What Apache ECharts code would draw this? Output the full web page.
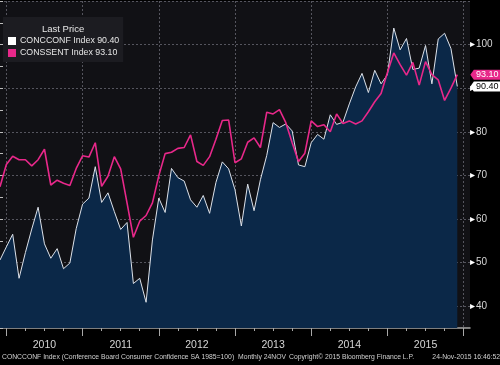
<!DOCTYPE html>
<html><head><meta charset="utf-8">
<script src="https://cdn.jsdelivr.net/npm/echarts@6/dist/echarts.min.js"></script>
<style>html,body{margin:0;padding:0;background:#000;}#c{width:500px;height:365px;}</style>
</head><body><div id="c"></div>
<script>
// Monthly observations, Nov 2009 .. Nov 2015 (plotted at month end)
const firstObs = 'Nov 2009';
const concconf = [
  50.6, 53.6,
  56.5, 46.4, 52.3, 57.7, 62.7, 54.3, 51.0, 53.2, 48.6, 49.9, 57.8, 63.4,
  64.8, 72.0, 63.8, 66.0, 61.7, 57.6, 59.2, 45.2, 46.4, 40.9, 55.2, 64.8,
  61.5, 71.6, 69.5, 68.7, 64.4, 62.7, 65.4, 61.3, 68.4, 73.1, 71.5, 66.7,
  58.4, 68.0, 61.9, 69.0, 74.6, 82.1, 81.0, 81.8, 80.2, 72.4, 72.0, 77.5,
  79.4, 78.3, 83.9, 81.7, 82.2, 86.4, 90.3, 93.4, 89.0, 94.1, 91.0, 93.1,
  103.8, 98.8, 101.4, 94.3, 94.6, 99.8, 91.0, 101.3, 102.6, 99.1, 90.4
];
const conssent = [
  67.4, 72.5,
  74.4, 73.6, 73.6, 72.2, 73.6, 76.0, 67.8, 68.9, 68.2, 67.7, 71.6, 74.5,
  74.2, 77.5, 67.5, 69.8, 74.3, 71.5, 63.7, 55.8, 59.5, 60.8, 63.7, 69.9,
  75.0, 75.3, 76.2, 76.4, 79.3, 73.2, 72.3, 74.3, 78.3, 82.6, 82.7, 72.9,
  73.8, 77.6, 78.6, 76.4, 84.5, 84.1, 85.1, 82.1, 77.5, 73.2, 75.1, 82.5,
  81.2, 81.6, 80.0, 84.1, 81.9, 82.5, 81.8, 82.5, 84.6, 86.9, 88.8, 93.6,
  98.1, 95.4, 93.0, 95.9, 90.7, 96.1, 93.1, 91.9, 87.2, 90.0, 93.1
];
const seriesNames = ['CONCCONF Index', 'CONSSENT Index'];
const seriesColors = ['#ffffff', '#e8288a'];
const yearLabels = ['2010', '2011', '2012', '2013', '2014', '2015'];
const yTickLabels = [40, 50, 60, 70, 80, 90, 100];
const footerLeft = 'CONCCONF Index (Conference Board Consumer Confidence SA 1985=100)';
const footerMid1 = 'Monthly 24NOV';
const footerMid2 = 'Copyright\u00A9 2015 Bloomberg Finance L.P.';
const footerRight = '24-Nov-2015 16:46:52';

// Axis month starts: Dec 2009 .. Feb 2016 (index i sits at value i)
const axisMonths = [];
for (let i = 0; i <= 74; i++) {
  const m = (11 + i) % 12, y = 2009 + Math.floor((11 + i) / 12);
  axisMonths.push(y + '-' + (m + 1));
}
const monthOf = v => parseInt(v.split('-')[1], 10);
const yearOf = v => v.split('-')[0];

const FONT = "'Liberation Sans',Arial,sans-serif";
const lastC = concconf[concconf.length - 1];
const lastS = conssent[conssent.length - 1];
const lastX = concconf.length - 1;
const tagPath = 'path://M0,5L4,0L34,0L34,10L4,10Z';
const footFont = '6.8px ' + FONT;

const chart = echarts.init(document.getElementById('c'), null, {renderer: 'canvas'});
chart.setOption({
  backgroundColor: '#000',
  animation: false,
  textStyle: {fontFamily: FONT},
  title: {text: 'Last Price', left: 37, top: 19,
    textStyle: {color: '#e6e6e6', fontSize: 9.5, fontWeight: 'normal', fontFamily: FONT}},
  legend: {
    left: 3, top: 17, orient: 'vertical', backgroundColor: '#1c1c21',
    padding: [18, 4, 3, 5], itemGap: 0, itemWidth: 8, itemHeight: 8, icon: 'rect',
    textStyle: {color: '#e6e6e6', fontSize: 8.8, lineHeight: 12, fontFamily: FONT, padding: [0, 0, 0, -1]},
    formatter: n => n + ' ' + (n === seriesNames[0] ? lastC : lastS).toFixed(2),
    data: seriesNames.map((n, i) => ({name: n, itemStyle: {color: seriesColors[i]}}))
  },
  grid: {left: 0, top: 1, width: 470, height: 327, show: true, backgroundColor: '#111115', borderWidth: 0},
  xAxis: [
    {type: 'value', min: 0, max: 74, show: false},
    {type: 'category', data: axisMonths, boundaryGap: false, position: 'bottom',
      axisLine: {show: true, lineStyle: {color: '#a8a8a8', width: 1.5}},
      axisTick: {show: true, length: 8, interval: (i, v) => monthOf(axisMonths[i]) === 1, lineStyle: {color: '#a8a8a8'}},
      axisLabel: {interval: (i, v) => monthOf(axisMonths[i]) === 7 && yearLabels.includes(yearOf(axisMonths[i])),
        formatter: v => yearOf(v), color: '#d6d6d6', fontSize: 10.5, margin: 12, fontFamily: FONT},
      splitLine: {show: true, interval: (i, v) => monthOf(axisMonths[i]) === 1,
        lineStyle: {color: '#55555e', type: [2, 2], width: 1}}},
    {type: 'category', data: axisMonths, boundaryGap: false, position: 'bottom',
      axisLine: {show: false},
      axisTick: {show: true, length: 3, interval: (i, v) => [4, 7, 10].includes(monthOf(axisMonths[i])), lineStyle: {color: '#a8a8a8'}},
      axisLabel: {show: false}, splitLine: {show: false}}
  ],
  yAxis: {
    type: 'value', position: 'right', min: 35, max: 110, interval: 5,
    axisLine: {show: false},
    axisTick: {show: true, length: 3, lineStyle: {color: '#bdbdbd'}},
    axisLabel: {margin: 0, color: '#d6d6d6', fontSize: 10, fontFamily: FONT,
      formatter: v => yTickLabels.includes(v) ? '{t|\u25B8}' + v : '',
      rich: {t: {color: '#ffffff', fontSize: 10, padding: [0, 1, 0, 0]}}},
    splitLine: {show: true, showMinLine: true, showMaxLine: true,
      lineStyle: {color: ['transparent', '#55555e'], type: [2, 2], width: 1}}
  },
  series: [
    {name: seriesNames[0], type: 'line', xAxisIndex: 0, symbol: 'none',
      data: concconf.map((v, i) => [i, v]),
      lineStyle: {color: '#dde2ea', width: 1}, itemStyle: {color: seriesColors[0]},
      areaStyle: {color: '#0b2848', opacity: 1, origin: 'start'}, z: 2,
      markPoint: {symbol: tagPath, symbolSize: [30, 10], symbolOffset: [28, 0], silent: true,
        itemStyle: {color: '#ffffff'},
        label: {show: true, position: 'inside', offset: [2, 0], color: '#000', fontSize: 9, fontFamily: FONT,
          formatter: () => lastC.toFixed(2)},
        data: [{coord: [lastX, lastC]}]}},
    {name: seriesNames[1], type: 'line', xAxisIndex: 0, symbol: 'none',
      data: conssent.map((v, i) => [i, v]),
      lineStyle: {color: seriesColors[1], width: 1.6}, itemStyle: {color: seriesColors[1]}, z: 3,
      markPoint: {symbol: tagPath, symbolSize: [30, 10], symbolOffset: [28, 0], silent: true,
        itemStyle: {color: seriesColors[1]},
        label: {show: true, position: 'inside', offset: [2, 0], color: '#fff', fontSize: 9, fontFamily: FONT,
          formatter: () => lastS.toFixed(2)},
        data: [{coord: [lastX, lastS]}]}}
  ],
  graphic: [
    {type: 'text', left: 2, top: 354, style: {text: footerLeft, fill: '#d0d0d0', font: footFont}},
    {type: 'text', left: 238, top: 354, style: {text: footerMid1, fill: '#d0d0d0', font: footFont}},
    {type: 'text', left: 289, top: 354, style: {text: footerMid2, fill: '#d0d0d0', font: footFont}},
    {type: 'text', right: 0, top: 354, style: {text: footerRight, fill: '#d0d0d0', font: footFont}}
  ]
});
</script></body></html>
